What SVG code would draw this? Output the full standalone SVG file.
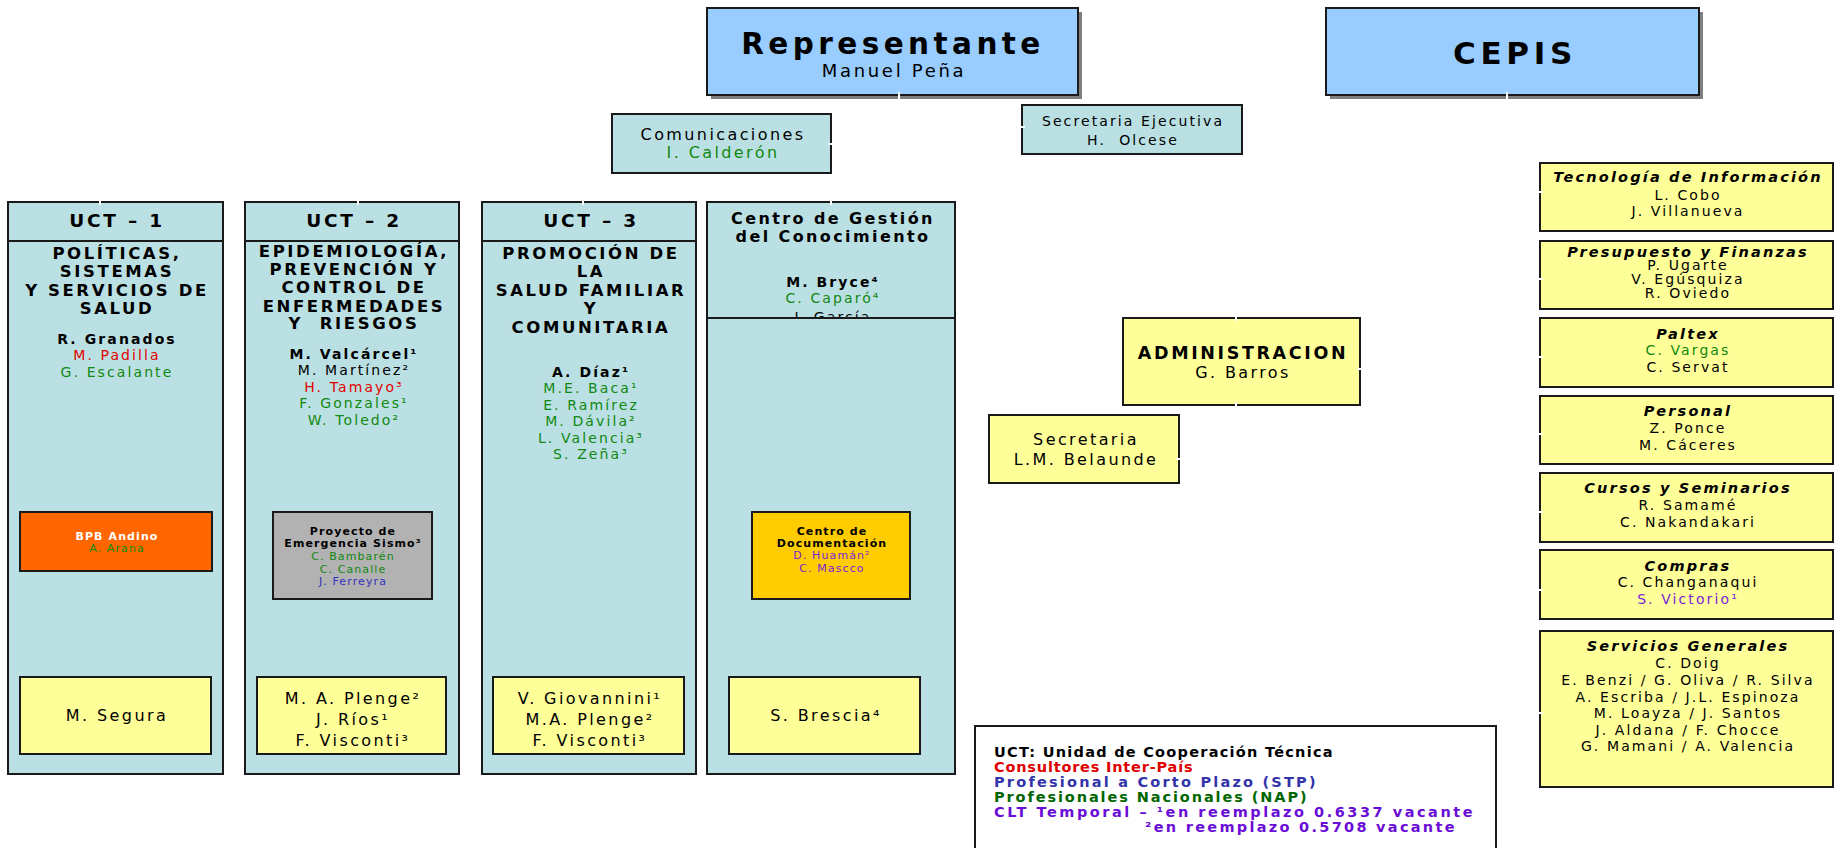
<svg xmlns="http://www.w3.org/2000/svg" width="1842" height="848" viewBox="0 0 1842 848">
<style>
text{font-family:"DejaVu Sans",Verdana,sans-serif;text-anchor:middle;letter-spacing:0.15em;fill:#000}
.b{font-weight:bold}
.g{fill:#118811}
.r{fill:#E00000}
.bl{fill:#3333BB}
.p{fill:#7A1FD6}
.w{fill:#FFFFFF}
.ttl{font-weight:bold;font-size:16.5px;letter-spacing:2.6px}
.hd{font-weight:bold;font-size:18.5px}
.nm{font-size:14px}
.sm{font-size:11px;letter-spacing:0.1em}
.bt{font-size:16px}
.rh{font-weight:bold;font-style:italic;font-size:14.5px}
.lg{font-weight:bold;font-size:14.5px;text-anchor:start;letter-spacing:0.1em}
.col{fill:#BBE0E3;stroke:#1a1a1a;stroke-width:2}
.yel{fill:#FFFF99;stroke:#1a1a1a;stroke-width:2}
.blu{fill:#99CCFF;stroke:#1a1a1a;stroke-width:2}
.sh{fill:#7f7f7f}
.tick{stroke:#FFFFFF;stroke-width:2}
</style>

<g id="representante">
<rect class="sh" x="711" y="12" width="371" height="87"/>
<rect class="blu" x="707" y="8" width="371" height="87"/>
<text x="893" y="54" class="b" style="font-size:29.5px">Representante</text>
<text x="894" y="77" style="font-size:18px">Manuel Peña</text>
</g>

<g id="cepis">
<rect class="sh" x="1330" y="12" width="373" height="87"/>
<rect class="blu" x="1326" y="8" width="373" height="87"/>
<text x="1515" y="64" class="b" style="font-size:31px">CEPIS</text>
</g>

<g id="comunicaciones">
<rect class="col" x="612" y="114" width="219" height="59"/>
<text x="723" y="140" class="bt">Comunicaciones</text>
<text x="723" y="158" class="bt g">I. Calderón</text>
</g>

<g id="secretaria-ejecutiva">
<rect class="col" x="1022" y="105" width="220" height="49"/>
<text x="1133" y="126" style="font-size:14px">Secretaria Ejecutiva</text>
<text x="1133" y="145" style="font-size:14px">H.&#160; Olcese</text>
</g>

<g id="uct1">
<rect class="col" x="8" y="202" width="215" height="39"/>
<rect class="col" x="8" y="241" width="215" height="533"/>
<text x="117" y="227" class="hd">UCT – 1</text>
<text x="117" y="259" class="ttl">POLÍTICAS,</text>
<text x="117" y="277" class="ttl">SISTEMAS</text>
<text x="117" y="296" class="ttl">Y SERVICIOS DE</text>
<text x="117" y="314" class="ttl">SALUD</text>
<text x="117" y="344" class="nm b">R. Granados</text>
<text x="117" y="360" class="nm r">M. Padilla</text>
<text x="117" y="377" class="nm g">G. Escalante</text>
<rect x="20" y="512" width="192" height="59" fill="#FF6600" stroke="#1a1a1a" stroke-width="2"/>
<text x="117" y="540" class="sm b w">BPB Andino</text>
<text x="117" y="552" class="sm g">A. Arana</text>
<rect class="yel" x="20" y="677" width="191" height="77"/>
<text x="117" y="721" class="bt">M. Segura</text>
</g>

<g id="uct2">
<rect class="col" x="245" y="202" width="214" height="39"/>
<rect class="col" x="245" y="241" width="214" height="533"/>
<text x="354" y="227" class="hd">UCT – 2</text>
<text x="354" y="257" class="ttl">EPIDEMIOLOGÍA,</text>
<text x="354" y="275" class="ttl">PREVENCIÓN Y</text>
<text x="354" y="293" class="ttl">CONTROL DE</text>
<text x="354" y="312" class="ttl">ENFERMEDADES</text>
<text x="354" y="329" class="ttl">Y&#160; RIESGOS</text>
<text x="354" y="359" class="nm b">M. Valcárcel¹</text>
<text x="354" y="375" class="nm">M. Martínez²</text>
<text x="354" y="392" class="nm r">H. Tamayo³</text>
<text x="354" y="408" class="nm g">F. Gonzales¹</text>
<text x="354" y="425" class="nm g">W. Toledo²</text>
<rect x="273" y="512" width="159" height="87" fill="#B2B2B2" stroke="#1a1a1a" stroke-width="2"/>
<text x="353" y="535" class="sm b">Proyecto de</text>
<text x="353" y="547" class="sm b">Emergencia Sismo³</text>
<text x="353" y="560" class="sm g">C. Bambarén</text>
<text x="353" y="573" class="sm g">C. Canalle</text>
<text x="353" y="585" class="sm bl">J. Ferreyra</text>
<rect class="yel" x="257" y="677" width="189" height="77"/>
<text x="353" y="704" class="bt">M. A. Plenge²</text>
<text x="353" y="725" class="bt">J. Ríos¹</text>
<text x="353" y="746" class="bt">F. Visconti³</text>
</g>

<g id="uct3">
<rect class="col" x="482" y="202" width="214" height="39"/>
<rect class="col" x="482" y="241" width="214" height="533"/>
<text x="591" y="227" class="hd">UCT – 3</text>
<text x="591" y="259" class="ttl">PROMOCIÓN DE</text>
<text x="591" y="277" class="ttl">LA</text>
<text x="591" y="296" class="ttl">SALUD FAMILIAR</text>
<text x="591" y="314" class="ttl">Y</text>
<text x="591" y="333" class="ttl">COMUNITARIA</text>
<text x="591" y="377" class="nm b">A. Díaz¹</text>
<text x="591" y="393" class="nm g">M.E. Baca¹</text>
<text x="591" y="410" class="nm g">E. Ramírez</text>
<text x="591" y="426" class="nm g">M. Dávila²</text>
<text x="591" y="443" class="nm g">L. Valencia³</text>
<text x="591" y="459" class="nm g">S. Zeña³</text>
<rect class="yel" x="493" y="677" width="191" height="77"/>
<text x="590" y="704" class="bt">V. Giovannini¹</text>
<text x="590" y="725" class="bt">M.A. Plenge²</text>
<text x="590" y="746" class="bt">F. Visconti³</text>
</g>

<g id="centro-gestion">
<rect class="col" x="707" y="202" width="248" height="116"/>
<text x="833" y="224" class="b" style="font-size:16px">Centro de Gestión</text>
<text x="833" y="242" class="b" style="font-size:16px">del Conocimiento</text>
<text x="833" y="287" class="nm b">M. Bryce⁴</text>
<text x="833" y="303" class="nm g">C. Caparó⁴</text>
<text x="833" y="322" class="nm">J. García</text>
<rect class="col" x="707" y="318" width="248" height="456"/>
<rect x="752" y="512" width="158" height="87" fill="#FFCC00" stroke="#1a1a1a" stroke-width="2"/>
<text x="832" y="535" class="sm b">Centro de</text>
<text x="832" y="547" class="sm b">Documentación</text>
<text x="832" y="559" class="sm p">D. Huamán²</text>
<text x="832" y="572" class="sm p">C. Mascco</text>
<rect class="yel" x="729" y="677" width="191" height="77"/>
<text x="826" y="721" class="bt">S. Brescia⁴</text>
</g>

<g id="administracion">
<rect class="yel" x="1123" y="318" width="237" height="87"/>
<text x="1243" y="359" class="b" style="font-size:17.5px">ADMINISTRACION</text>
<text x="1243" y="378" class="bt">G. Barros</text>
</g>

<g id="secretaria">
<rect class="yel" x="989" y="415" width="190" height="68"/>
<text x="1086" y="445" class="bt">Secretaria</text>
<text x="1086" y="465" class="bt">L.M. Belaunde</text>
</g>

<g id="tecnologia">
<rect class="yel" x="1540" y="163" width="293" height="68"/>
<text x="1688" y="182" class="rh">Tecnología de Información</text>
<text x="1688" y="200" class="nm">L. Cobo</text>
<text x="1688" y="216" class="nm">J. Villanueva</text>
</g>

<g id="presupuesto">
<rect class="yel" x="1540" y="241" width="293" height="68"/>
<text x="1688" y="257" class="rh">Presupuesto y Finanzas</text>
<text x="1688" y="270" class="nm">P. Ugarte</text>
<text x="1688" y="284" class="nm">V. Egúsquiza</text>
<text x="1688" y="298" class="nm">R. Oviedo</text>
</g>

<g id="paltex">
<rect class="yel" x="1540" y="318" width="293" height="69"/>
<text x="1688" y="339" class="rh">Paltex</text>
<text x="1688" y="355" class="nm g">C. Vargas</text>
<text x="1688" y="372" class="nm">C. Servat</text>
</g>

<g id="personal">
<rect class="yel" x="1540" y="396" width="293" height="68"/>
<text x="1688" y="416" class="rh">Personal</text>
<text x="1688" y="433" class="nm">Z. Ponce</text>
<text x="1688" y="450" class="nm">M. Cáceres</text>
</g>

<g id="cursos">
<rect class="yel" x="1540" y="473" width="293" height="69"/>
<text x="1688" y="493" class="rh">Cursos y Seminarios</text>
<text x="1688" y="510" class="nm">R. Samamé</text>
<text x="1688" y="527" class="nm">C. Nakandakari</text>
</g>

<g id="compras">
<rect class="yel" x="1540" y="550" width="293" height="69"/>
<text x="1688" y="571" class="rh">Compras</text>
<text x="1688" y="587" class="nm">C. Changanaqui</text>
<text x="1688" y="604" class="nm p">S. Victorio¹</text>
</g>

<g id="servicios">
<rect class="yel" x="1540" y="631" width="293" height="156"/>
<text x="1688" y="651" class="rh">Servicios Generales</text>
<text x="1688" y="668" class="nm">C. Doig</text>
<text x="1688" y="685" class="nm">E. Benzi / G. Oliva / R. Silva</text>
<text x="1688" y="702" class="nm">A. Escriba / J.L. Espinoza</text>
<text x="1688" y="718" class="nm">M. Loayza / J. Santos</text>
<text x="1688" y="735" class="nm">J. Aldana / F. Chocce</text>
<text x="1688" y="751" class="nm">G. Mamani / A. Valencia</text>
</g>

<g id="leyenda">
<rect x="975" y="726" width="521" height="140" fill="#FFFFFF" stroke="#1a1a1a" stroke-width="2"/>
<text x="994" y="757" class="lg" textLength="340" lengthAdjust="spacing">UCT: Unidad de Cooperación Técnica</text>
<text x="994" y="772" class="lg" style="fill:#E00000" textLength="200" lengthAdjust="spacing">Consultores Inter-País</text>
<text x="994" y="787" class="lg" style="fill:#3333AA" textLength="323" lengthAdjust="spacing">Profesional a Corto Plazo (STP)</text>
<text x="994" y="802" class="lg" style="fill:#006600" textLength="314" lengthAdjust="spacing">Profesionales Nacionales (NAP)</text>
<text x="994" y="817" class="lg" style="fill:#6A0DD6" textLength="480" lengthAdjust="spacing">CLT Temporal – ¹en reemplazo 0.6337 vacante</text>
<text x="1145" y="832" class="lg" style="fill:#6A0DD6" textLength="311" lengthAdjust="spacing">²en reemplazo 0.5708 vacante</text>
</g>

<g id="connectors">
<line class="tick" x1="100" y1="199" x2="100" y2="205"/>
<line class="tick" x1="358" y1="199" x2="358" y2="205"/>
<line class="tick" x1="583" y1="199" x2="583" y2="205"/>
<line class="tick" x1="831" y1="199" x2="831" y2="205"/>
<line class="tick" x1="899" y1="92" x2="899" y2="100"/>
<line class="tick" x1="1507" y1="92" x2="1507" y2="100"/>
<line class="tick" x1="828" y1="144" x2="834" y2="144"/>
<line class="tick" x1="1019" y1="127" x2="1025" y2="127"/>
<line class="tick" x1="1236" y1="315" x2="1236" y2="321"/>
<line class="tick" x1="1236" y1="402" x2="1236" y2="408"/>
<line class="tick" x1="1357" y1="369" x2="1363" y2="369"/>
<line class="tick" x1="1176" y1="459" x2="1182" y2="459"/>
<line class="tick" x1="1537" y1="192" x2="1543" y2="192"/>
<line class="tick" x1="1537" y1="279" x2="1543" y2="279"/>
<line class="tick" x1="1537" y1="357" x2="1543" y2="357"/>
<line class="tick" x1="1537" y1="434" x2="1543" y2="434"/>
<line class="tick" x1="1537" y1="512" x2="1543" y2="512"/>
<line class="tick" x1="1537" y1="590" x2="1543" y2="590"/>
<line class="tick" x1="1537" y1="713" x2="1543" y2="713"/>
</g>
</svg>
